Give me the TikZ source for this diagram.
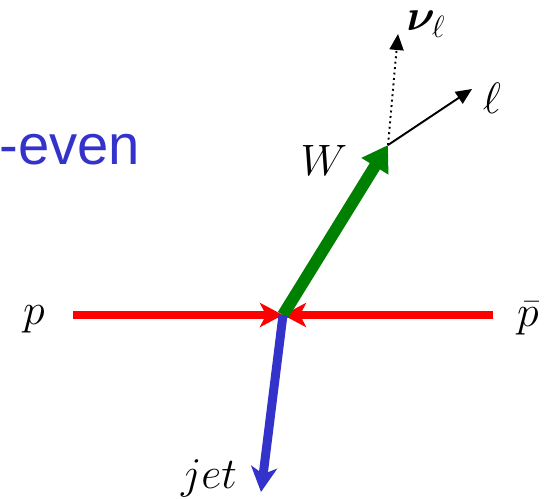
\RequirePackage{fix-cm}
\documentclass[tikz,border=0pt]{standalone}
\usepackage{amsmath,amssymb,bm}
\usepackage{xcolor}
\usepackage{fontspec}
\newfontfamily\labelsans{Liberation Sans}
\usetikzlibrary{arrows.meta, positioning, calc}

\definecolor{beamred}{RGB}{255,0,0}
\definecolor{wgreen}{RGB}{0,128,0}
\definecolor{jetblue}{RGB}{51,51,204}

\begin{document}
\begin{tikzpicture}[
  x=0.02cm, y=-0.02cm,
  lbl/.style={font=\fontsize{25}{30}\selectfont, inner sep=0pt},
  beam/.style={draw=beamred, line width=8pt*0.5669,
               -{Stealth[length=0.46cm, width=0.48cm, inset=0.12cm]}},
  boson/.style={draw=wgreen, line width=12pt*0.5669,
                -{Triangle[length=0.5cm, width=0.6cm]}},
  jetarr/.style={draw=jetblue, line width=9pt*0.5669,
                 -{Stealth[length=0.5cm, width=0.52cm, inset=0.14cm]}},
  decay/.style={draw=black, line width=1.1pt,
                -{Triangle[length=0.32cm, width=0.28cm]}}
]
  \useasboundingbox (0,0) rectangle (555,498);

  % vertex and end points
  \coordinate (vtx)  at (283,315);
  \coordinate (pin)  at (73,315);
  \coordinate (pbin) at (493,315);
  \coordinate (wend) at (388,145);
  \coordinate (jend) at (261,492);
  \coordinate (lend) at (472,89);
  \coordinate (nend) at (398,34);

  % labels
  \node[lbl] (plbl)   at (34,319)  {$p$};
  \node[lbl] (pblbl)  at (528,318) {$\bar{p}$};
  \node[lbl] (wlbl)   at (324,160) {$W$};
  \node[lbl] (jetlbl) at (209,478) {$jet$};
  \node[lbl] (nulbl)  at (426,24)  {$\bm{\nu}_\ell$};
  \node[lbl] (llbl)   at (492,98)  {$\ell$};
  \node[anchor=base west, inner sep=0pt, text=jetblue,
        font=\labelsans\fontsize{32}{36}\selectfont] (cp) at (-1,164) {-even};

  % incoming beams
  \draw[beam] (pin)  -- (vtx);
  \draw[beam] (pbin) -- (vtx);

  % outgoing W and jet
  \draw[boson]  (vtx) -- (wend);
  \draw[jetarr] (vtx) -- (jend);

  % W decay
  \draw[decay] (wend) -- (lend);
  \draw[decay, dotted] (wend) -- (nend);
\end{tikzpicture}
\end{document}
